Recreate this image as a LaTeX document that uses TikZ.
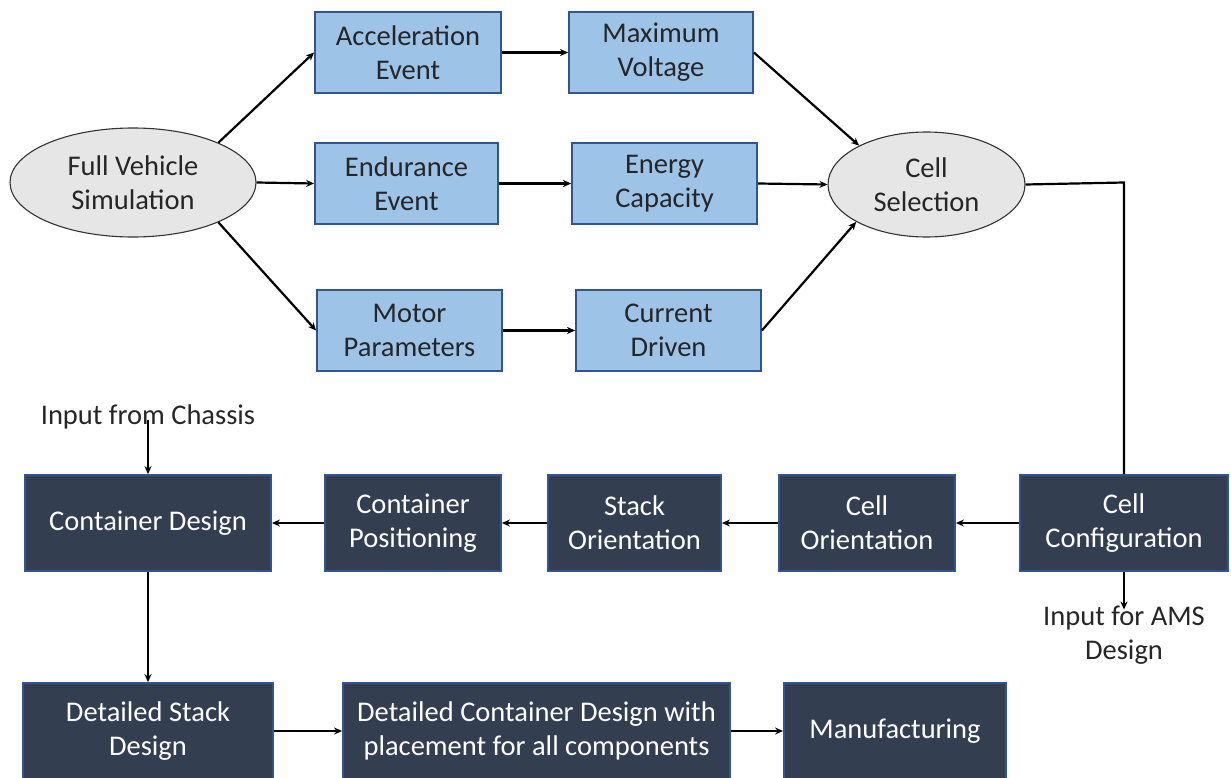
\documentclass[tikz,border=0pt]{standalone}
\usepackage{fontspec}
\setmainfont{Carlito}
\usetikzlibrary{shapes.geometric,arrows.meta}
\definecolor{lblue}{HTML}{9DC3E6}
\definecolor{bedge}{HTML}{2F5597}
\definecolor{dark}{HTML}{333F50}
\definecolor{egray}{HTML}{E7E6E6}
\tikzset{
  txt/.style={font=\fontsize{28.5}{34}\selectfont},
  lbox/.style={txt,draw=bedge,fill=lblue,line width=1.8pt,align=center,inner sep=0pt,text=black!85},
  dbox/.style={txt,draw=bedge,fill=dark,line width=1.8pt,align=center,inner sep=0pt,text=white},
  ell/.style={txt,ellipse,draw=black!80,fill=egray,line width=1.1pt,align=center,inner sep=0pt,text=black!85},
  plain/.style={txt,align=center,inner sep=0pt,text=black!85},
  arr/.style={-{Stealth[length=8pt,width=7pt]},line width=2.2pt,black},
  ln/.style={line width=2.2pt,black}
}
\begin{document}
\begin{tikzpicture}[x=1pt,y=-1pt]
\useasboundingbox (0,0) rectangle (1231,778);
\clip (0,0) rectangle (1231,778);
% top part
\node[ell,minimum width=246pt,minimum height=109pt] (fvs) at (133,182.5) {Full Vehicle\\Simulation};
\node[lbox,minimum width=186pt,minimum height=81pt] (acc) at (408,52.5) {Acceleration\\Event};
\node[lbox,minimum width=184pt,minimum height=81pt] (mv) at (661,52.5) {Maximum\\Voltage};
\node[lbox,minimum width=183pt,minimum height=81pt] (end) at (406.5,183.5) {Endurance\\Event};
\node[lbox,minimum width=185pt,minimum height=81pt] (ec) at (664.5,183.5) {Energy\\Capacity};
\node[lbox,minimum width=185pt,minimum height=81pt] (mp) at (409.5,330.5) {Motor\\Parameters};
\node[lbox,minimum width=185pt,minimum height=81pt] (cd) at (668.5,330.5) {Current\\Driven};
\node[ell,minimum width=197pt,minimum height=105pt] (cs) at (926.5,184.5) {Cell\\Selection};
% middle row
\node[dbox,minimum width=246pt,minimum height=96pt] (cdes) at (148,523) {Container Design};
\node[dbox,minimum width=176pt,minimum height=96pt] (cpos) at (413,523) {Container\\Positioning};
\node[dbox,minimum width=173pt,minimum height=96pt] (so) at (634.5,523) {Stack\\Orientation};
\node[dbox,minimum width=176pt,minimum height=96pt] (co) at (867,523) {Cell\\Orientation};
\node[dbox,minimum width=208pt,minimum height=96pt] (cc) at (1124,523) {Cell\\Configuration};
\node[plain] (chassis) at (148,417) {Input from Chassis};
\node[plain] (ams) at (1124,635) {Input for AMS\\Design};
% bottom row
\node[dbox,minimum width=250pt,minimum height=96pt] (dsd) at (148,731) {Detailed Stack\\Design};
\node[dbox,minimum width=387pt,minimum height=96pt] (dcd) at (536.5,731) {Detailed Container Design with\\placement for all components};
\node[dbox,minimum width=222pt,minimum height=96pt] (man) at (895,731) {Manufacturing};
% connectors top
\draw[arr] (fvs.25) -- (acc.west);
\draw[arr] (fvs.east) -- (end.west);
\draw[arr] (fvs.-25) -- (mp.west);
\draw[arr] (acc) -- (mv);
\draw[arr] (end) -- (ec);
\draw[arr] (mp) -- (cd);
\draw[arr] (mv.east) -- (cs.150);
\draw[arr] (ec.east) -- (cs.west);
\draw[arr] (cd.east) -- (cs.208);
\draw[ln] (cs.east) -- ([yshift=2pt]cs.east -| cc.north) -- (cc.north);
% connectors middle
\draw[arr] (cc) -- (co);
\draw[arr] (co) -- (so);
\draw[arr] (so) -- (cpos);
\draw[arr] (cpos) -- (cdes);
\coordinate (chs) at ([yshift=9pt]chassis.south);
\draw[arr] (chs) -- (cdes.north);
\draw[arr] (cc.south) -- ([yshift=-4pt]ams.north);
\draw[arr] (cdes.south) -- (dsd.north);
% bottom
\draw[arr] (dsd) -- (dcd);
\draw[arr] (dcd) -- (man);
\end{tikzpicture}
\end{document}
